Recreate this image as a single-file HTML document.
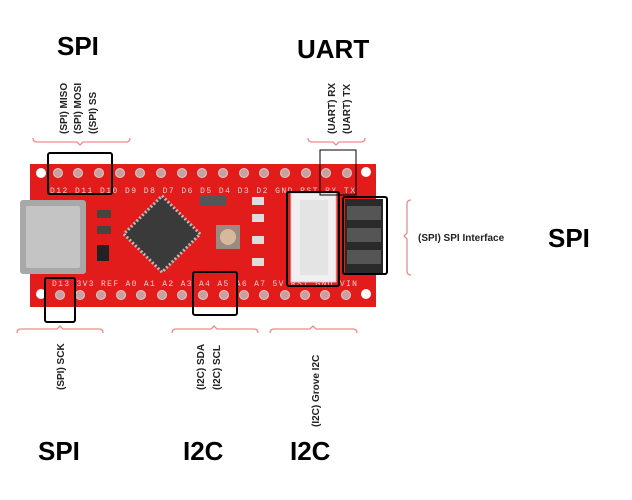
<!DOCTYPE html>
<html><head><meta charset="utf-8"><style>
html,body{margin:0;padding:0;background:#fff;width:632px;height:500px;overflow:hidden}
svg{display:block}
.big{font-family:"Liberation Sans",sans-serif;font-weight:bold;fill:#000}
.sm{font-family:"Liberation Sans",sans-serif;font-weight:bold;font-size:10px;fill:#222}
.pl{font-family:"Liberation Mono",monospace;font-size:8px;fill:#f4d0d0}
</style></head><body>
<svg width="632" height="500" viewBox="0 0 632 500" xmlns="http://www.w3.org/2000/svg">
<text class="big" x="57" y="55" font-size="26">SPI</text>
<text class="big" x="297" y="58" font-size="26">UART</text>
<text class="big" x="38" y="460" font-size="26">SPI</text>
<text class="big" x="183" y="460" font-size="26">I2C</text>
<text class="big" x="290" y="460" font-size="26">I2C</text>
<text class="big" x="548" y="247" font-size="26">SPI</text>
<text class="sm" x="418" y="241" font-size="9.5">(SPI) SPI Interface</text>
<text class="sm" transform="translate(67,134) rotate(-90)">(SPI) MISO</text>
<text class="sm" transform="translate(81,134) rotate(-90)">(SPI) MOSI</text>
<text class="sm" transform="translate(96,134) rotate(-90)">((SPI) SS</text>
<text class="sm" transform="translate(335,134) rotate(-90)">(UART) RX</text>
<text class="sm" transform="translate(350,134) rotate(-90)">(UART) TX</text>
<text class="sm" transform="translate(64,390) rotate(-90)">(SPI) SCK</text>
<text class="sm" transform="translate(204,390) rotate(-90)">(I2C) SDA</text>
<text class="sm" transform="translate(220,390) rotate(-90)">(I2C) SCL</text>
<text class="sm" transform="translate(319,427) rotate(-90)">(I2C) Grove I2C</text>
<g fill="none" stroke="#f08a8a" stroke-width="1.3">
<path d="M33,138 q0,4 4,4 H77 l3,3 l3,-3 H126 q4,0 4,-4"/>
<path d="M308,138 q0,4 4,4 H333 l3,3 l3,-3 H361 q4,0 4,-4"/>
<path d="M17,333 q0,-4 4,-4 H57 l3,-3 l3,3 H99 q4,0 4,4"/>
<path d="M172,333 q0,-4 4,-4 H211 l3,-3 l3,3 H254 q4,0 4,4"/>
<path d="M270,333 q0,-4 4,-4 H310 l3,-3 l3,3 H353 q4,0 4,4"/>
<path d="M411,200 q-4,0 -4,4 V233 l-3,3 l3,3 V271 q0,4 4,4"/>
</g>
<rect x="30" y="164" width="346" height="143" fill="#e21b1b"/>
<circle cx="41" cy="173" r="5" fill="#fff"/><circle cx="366" cy="172" r="5" fill="#fff"/>
<circle cx="41" cy="294" r="5" fill="#fff"/><circle cx="366" cy="294" r="5" fill="#fff"/>
<g fill="#c9a0a0" stroke="#e8c8c8" stroke-width="1">
<circle cx="58" cy="173" r="4.5"/><circle cx="78" cy="173" r="4.5"/><circle cx="99" cy="173" r="4.5"/><circle cx="120" cy="173" r="4.5"/><circle cx="140" cy="173" r="4.5"/><circle cx="161" cy="173" r="4.5"/><circle cx="182" cy="173" r="4.5"/><circle cx="202" cy="173" r="4.5"/><circle cx="223" cy="173" r="4.5"/><circle cx="244" cy="173" r="4.5"/><circle cx="264" cy="173" r="4.5"/><circle cx="285" cy="173" r="4.5"/><circle cx="306" cy="173" r="4.5"/><circle cx="326" cy="173" r="4.5"/><circle cx="347" cy="173" r="4.5"/>
<circle cx="60" cy="295" r="4.5"/><circle cx="80" cy="295" r="4.5"/><circle cx="101" cy="295" r="4.5"/><circle cx="121" cy="295" r="4.5"/><circle cx="141" cy="295" r="4.5"/><circle cx="162" cy="295" r="4.5"/><circle cx="182" cy="295" r="4.5"/><circle cx="203" cy="295" r="4.5"/><circle cx="224" cy="295" r="4.5"/><circle cx="244" cy="295" r="4.5"/><circle cx="264" cy="295" r="4.5"/><circle cx="285" cy="295" r="4.5"/><circle cx="305" cy="295" r="4.5"/><circle cx="325" cy="295" r="4.5"/><circle cx="346" cy="295" r="4.5"/>
</g>
<text class="pl" x="50" y="193" textLength="305" lengthAdjust="spacing">D12 D11 D10 D9 D8 D7 D6 D5 D4 D3 D2 GND RST RX TX</text>
<text class="pl" x="52" y="286" textLength="305" lengthAdjust="spacing">D13 3V3 REF A0 A1 A2 A3 A4 A5 A6 A7 5V RST GND VIN</text>
<rect x="20" y="200" width="66" height="74" rx="3" fill="#a8a8a8"/>
<rect x="26" y="206" width="54" height="62" rx="2" fill="#c4c4c4"/>
<rect x="135" y="207" width="54" height="54" fill="#3a3a3a" stroke="#bbb" stroke-width="3" stroke-dasharray="2 2" transform="rotate(45 162 234)"/>
<rect x="97" y="210" width="14" height="8" fill="#444"/><rect x="97" y="226" width="14" height="8" fill="#444"/><rect x="97" y="245" width="12" height="16" fill="#222"/>
<rect x="216" y="225" width="24" height="24" fill="#9a8a80"/>
<circle cx="228" cy="237" r="8" fill="#d8b89a"/>
<rect x="200" y="196" width="26" height="10" fill="#555"/>
<rect x="252" y="197" width="12" height="8" fill="#ddd"/><rect x="252" y="214" width="12" height="8" fill="#ddd"/><rect x="252" y="236" width="12" height="8" fill="#ddd"/><rect x="252" y="258" width="12" height="8" fill="#ddd"/>
<rect x="291" y="193" width="45" height="89" fill="#f0f0f0" stroke="#ccc"/>
<rect x="300" y="200" width="28" height="75" fill="#e4e4e4"/>
<rect x="345" y="199" width="38" height="74" fill="#2a2a2a"/>
<rect x="347" y="206" width="34" height="14" fill="#555"/><rect x="347" y="228" width="34" height="14" fill="#555"/><rect x="347" y="250" width="34" height="14" fill="#555"/>
<g fill="none" stroke="#000" stroke-width="2">
<rect x="48" y="153" width="64" height="41" rx="2"/>
<rect x="287" y="192" width="52" height="94" rx="2"/>
<rect x="343" y="197" width="44" height="77" rx="2"/>
<rect x="45" y="278" width="30" height="44" rx="2"/>
<rect x="193" y="272" width="44" height="43" rx="2"/>
</g>
<rect x="320" y="150" width="36" height="45" fill="none" stroke="#000" stroke-width="1"/>
</svg>
</body></html>
